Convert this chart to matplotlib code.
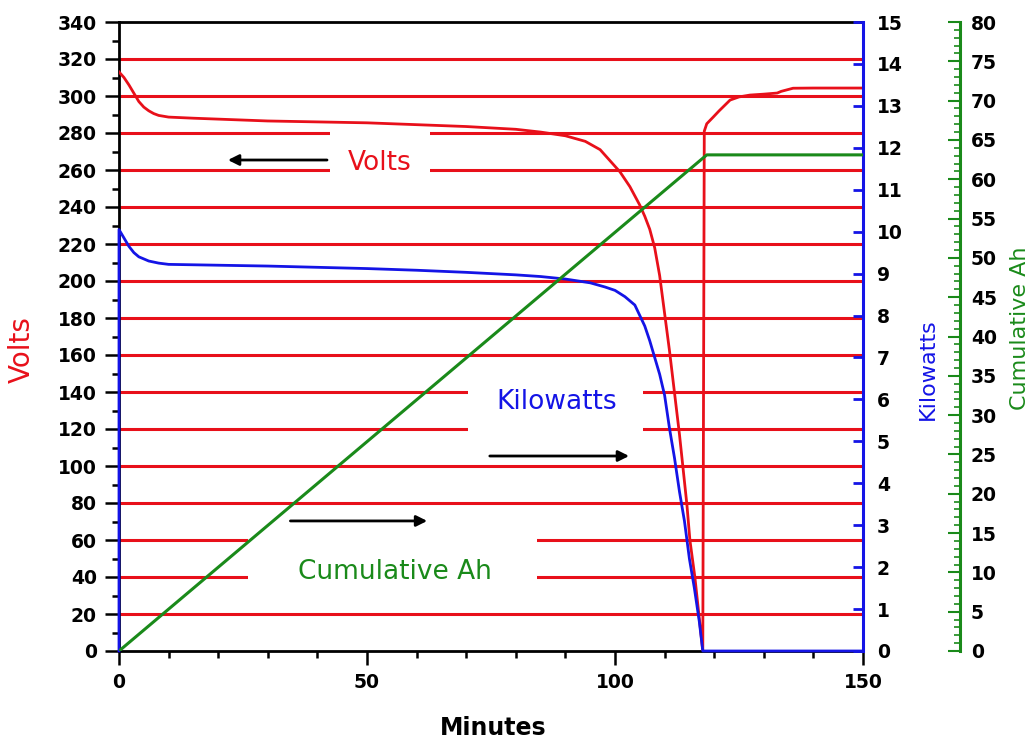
import matplotlib
matplotlib.use('Agg')
import matplotlib.pyplot as plt
from matplotlib.patches import Rectangle
from matplotlib.ticker import MultipleLocator

# data
volt_minutes = [0, 1, 2, 3, 4, 5, 6, 7, 8, 10, 15, 20, 30, 40, 50, 60, 70, 80, 85, 90,
                94, 97, 99, 101, 103, 105, 106, 107, 108, 109, 111, 113, 114.5, 115.1, 116.1,
                117.1, 117.7, 118.0, 118.5, 119.8, 121, 123.2, 125, 127.2, 130, 132.7,
                133.5, 135.9, 140, 150]
volts = [313, 310, 306, 301.5, 297, 294, 292, 290.5, 289.5, 288.6, 288, 287.5, 286.5, 286,
         285.5, 284.5, 283.5, 282, 280.5, 278.5, 275.5, 271, 265, 259, 251, 241, 235, 228, 218,
         203, 162, 117, 79, 60, 40, 15, 0, 281, 285, 288.6, 292, 297.8, 299.5, 300.5, 301,
         301.6, 302.5, 304.2, 304.3, 304.3]

kw_minutes = [0, 0, 1, 2, 3, 4, 6, 8, 10, 20, 30, 40, 50, 60, 70, 80, 85, 90, 95, 98, 100,
              102, 104, 106, 107, 108, 109, 110, 111, 112, 113, 114, 115, 116, 117, 117.7, 150]
kilowatts = [0, 10.05, 9.85, 9.65, 9.5, 9.4, 9.3, 9.25, 9.22, 9.2, 9.18, 9.15, 9.12, 9.08,
             9.03, 8.97, 8.93, 8.87, 8.78, 8.68, 8.6, 8.45, 8.25, 7.75, 7.4, 7.0, 6.6, 6.1,
             5.3, 4.6, 3.8, 3.1, 2.2, 1.5, 0.7, 0, 0]

ah_minutes = [0, 118.5, 150]
cumulative_ah = [0, 63.1, 63.1]

grid_volts = [20, 40, 60, 80, 100, 120, 140, 160, 180, 200, 220, 240, 260, 280, 300, 320]

RED = '#e8101a'
BLUE = '#1414e6'
GREEN = '#1a8a1a'

fig = plt.figure(figsize=(10.35, 7.46), dpi=100)
ax = fig.add_axes([119 / 1035, 95 / 746, 744 / 1035, 629 / 746])
ax2 = ax.twinx()
ax3 = ax.twinx()

# volts axis
ax.hlines(grid_volts, 0, 150, color=RED, lw=2.2, zorder=1)
ax.plot(volt_minutes, volts, color=RED, lw=2, zorder=3)
ax.set_xlim(0, 150)
ax.set_ylim(0, 340)
ax.xaxis.set_major_locator(MultipleLocator(50))
ax.xaxis.set_minor_locator(MultipleLocator(10))
ax.yaxis.set_major_locator(MultipleLocator(20))
ax.yaxis.set_minor_locator(MultipleLocator(10))
ax.tick_params(which='major', direction='out', length=10, width=1.8, pad=6)
ax.tick_params(which='minor', direction='out', length=5, width=1.8)
for lab in ax.get_xticklabels() + ax.get_yticklabels():
    lab.set_fontsize(13.5)
    lab.set_fontweight('bold')
ax.spines['right'].set_visible(False)
for s in ['left', 'top', 'bottom']:
    ax.spines[s].set_linewidth(2)
ax.set_ylabel('Volts', color=RED, fontsize=20, ha='center', va='center')
ax.yaxis.set_label_coords(-0.130, 0.48)
ax.set_xlabel('Minutes', fontsize=17, fontweight='bold', ha='center', va='center')
ax.xaxis.set_label_coords(0.503, -0.122)

# white boxes behind the in-plot labels
for (x0, x1, y0, y1) in [(42.5, 62.7, 255, 285), (70.4, 105.6, 115, 145), (26, 84.3, 35, 65)]:
    ax.add_patch(Rectangle((x0, y0), x1 - x0, y1 - y0, facecolor='white', edgecolor='none', zorder=1.5))

ax.text(52.6, 263.8, 'Volts', color=RED, fontsize=19, ha='center', va='center', zorder=4)
ax.text(88.3, 134.6, 'Kilowatts', color=BLUE, fontsize=19, ha='center', va='center', zorder=4)
ax.text(55.6, 42.7, 'Cumulative Ah', color=GREEN, fontsize=19, ha='center', va='center', zorder=4)
arrow = dict(arrowstyle='-|>', color='black', lw=2, mutation_scale=16)
ax.annotate('', xy=(21.4, 265.4), xytext=(42.5, 265.4), arrowprops=arrow)
ax.annotate('', xy=(103.4, 105.4), xytext=(74.2, 105.4), arrowprops=arrow)
ax.annotate('', xy=(62.7, 70.3), xytext=(34, 70.3), arrowprops=arrow)

# kilowatts axis
ax2.plot(kw_minutes, kilowatts, color=BLUE, lw=2, clip_on=False, zorder=3)
ax2.set_ylim(0, 15)
ax2.yaxis.set_major_locator(MultipleLocator(1))
ax2.tick_params(axis='y', direction='in', length=7, width=2, color=BLUE, pad=10)
for lab in ax2.get_yticklabels():
    lab.set_fontsize(13.5)
    lab.set_fontweight('bold')
for s in ['left', 'top', 'bottom']:
    ax2.spines[s].set_visible(False)
ax2.spines['right'].set_color(BLUE)
ax2.spines['right'].set_linewidth(2.2)
ax2.set_ylabel('Kilowatts', color=BLUE, fontsize=16, ha='center', va='center')
ax2.yaxis.set_label_coords(1.087, 0.448)

# cumulative Ah axis
ax3.plot(ah_minutes, cumulative_ah, color=GREEN, lw=2.2, zorder=3)
ax3.set_ylim(0, 80)
ax3.spines['right'].set_position(('axes', 1.13))
ax3.yaxis.set_major_locator(MultipleLocator(5))
ax3.yaxis.set_minor_locator(MultipleLocator(1))
ax3.tick_params(axis='y', which='major', direction='in', length=9, width=1.5, color=GREEN, pad=8)
ax3.tick_params(axis='y', which='minor', direction='in', length=4, width=1.2, color=GREEN)
for lab in ax3.get_yticklabels():
    lab.set_fontsize(13.5)
    lab.set_fontweight('bold')
for s in ['left', 'top', 'bottom']:
    ax3.spines[s].set_visible(False)
ax3.spines['right'].set_color(GREEN)
ax3.spines['right'].set_linewidth(2.2)
ax3.set_ylabel('Cumulative Ah', color=GREEN, fontsize=16, ha='center', va='center')
ax3.yaxis.set_label_coords(1.211, 0.513)

fig.savefig('out.png', dpi=100)
